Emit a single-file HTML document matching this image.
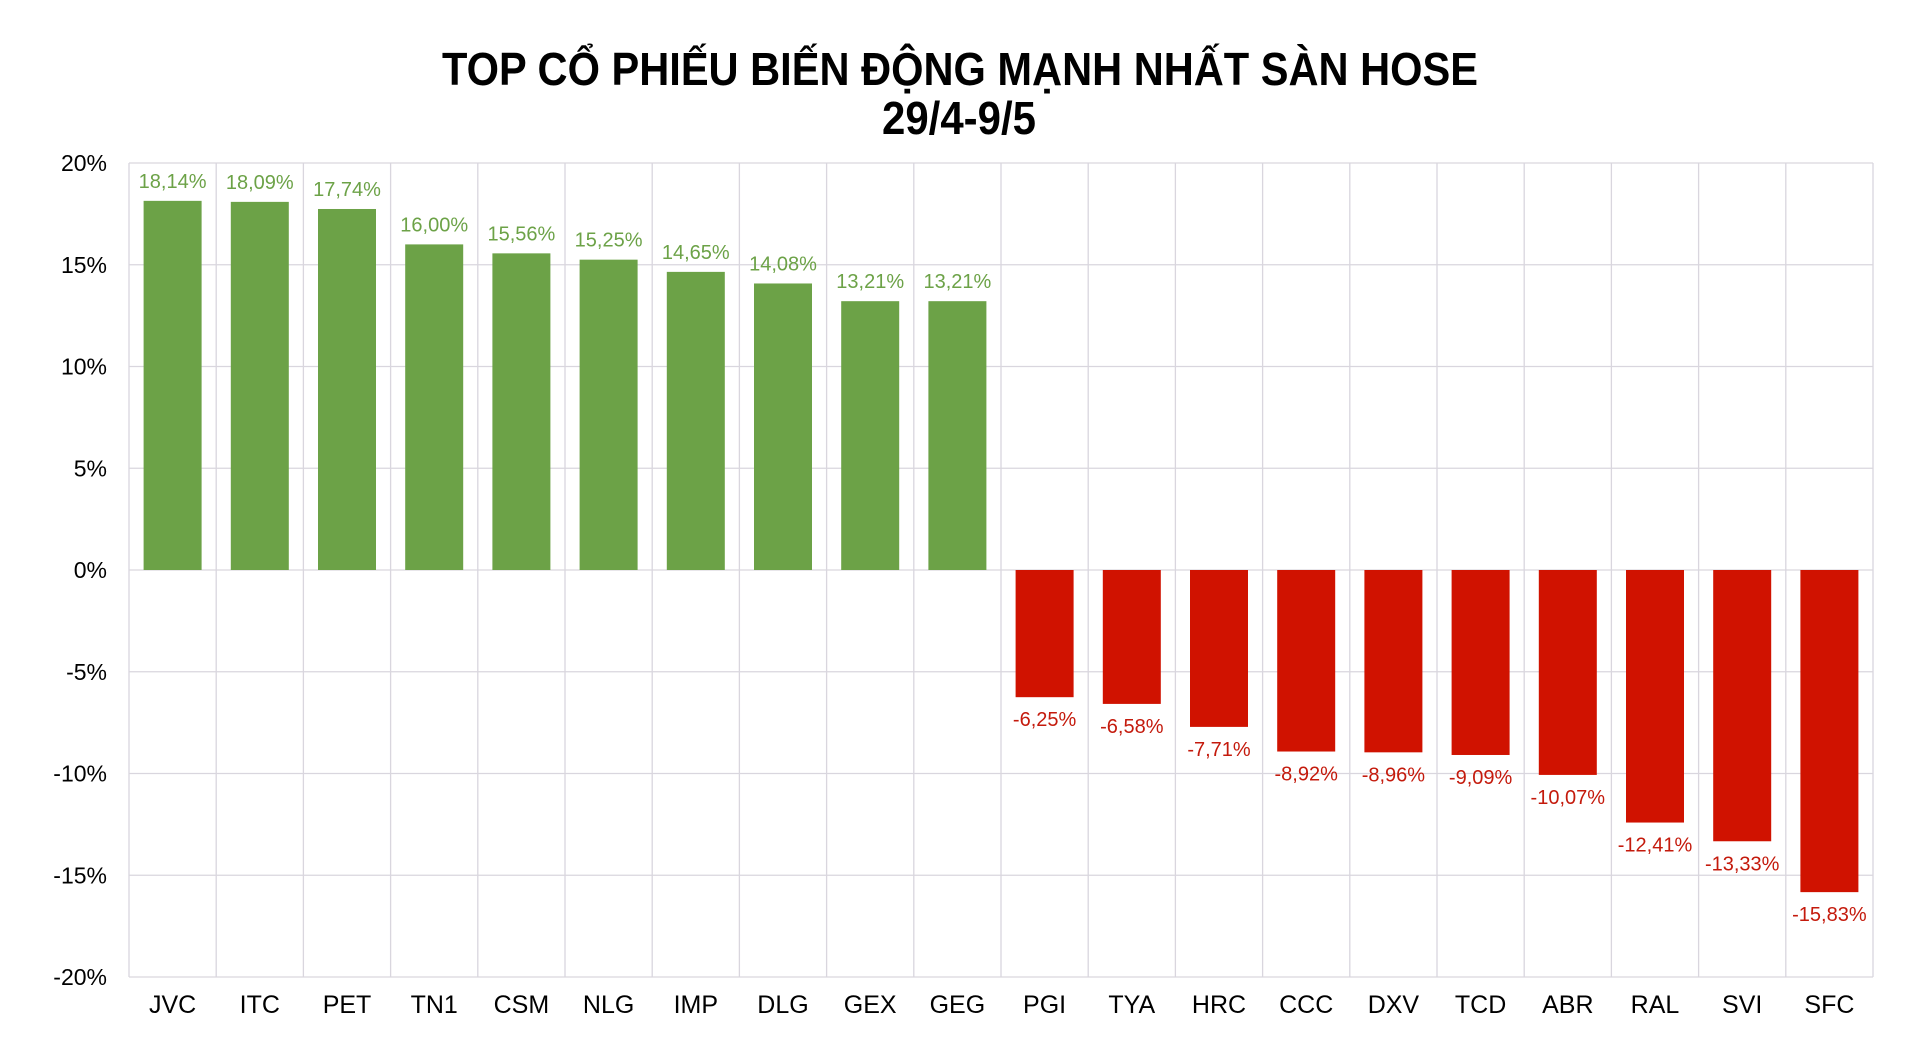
<!DOCTYPE html>
<html><head><meta charset="utf-8"><style>html,body{margin:0;padding:0;background:#fff}svg{display:block}</style></head>
<body>
<svg width="1920" height="1042" xmlns="http://www.w3.org/2000/svg" font-family="Liberation Sans, Arial, sans-serif">
<text x="960" y="85" text-anchor="middle" font-size="46" font-weight="bold" textLength="1036" lengthAdjust="spacingAndGlyphs">TOP CỔ PHIẾU BIẾN ĐỘNG MẠNH NHẤT SÀN HOSE</text>
<text x="959" y="134" text-anchor="middle" font-size="46" font-weight="bold" textLength="154" lengthAdjust="spacingAndGlyphs">29/4-9/5</text>
<g id="grid" stroke="#d9d6de" stroke-width="1.3"></g>
<g id="ylab" font-size="23" text-anchor="end" fill="#000"></g>
<g id="bars"></g>
</svg>
<script>
const ns="http://www.w3.org/2000/svg";
const L=129,R=1873,T=163,B=977,zero=570,ppu=20.35;
const cats=["JVC","ITC","PET","TN1","CSM","NLG","IMP","DLG","GEX","GEG","PGI","TYA","HRC","CCC","DXV","TCD","ABR","RAL","SVI","SFC"];
const vals=[18.14,18.09,17.74,16.00,15.56,15.25,14.65,14.08,13.21,13.21,-6.25,-6.58,-7.71,-8.92,-8.96,-9.09,-10.07,-12.41,-13.33,-15.83];
const cw=(R-L)/20;
function el(t,a,p,txt){const e=document.createElementNS(ns,t);for(const k in a)e.setAttribute(k,a[k]);if(txt!==undefined)e.textContent=txt;p.appendChild(e);return e;}
const g=document.getElementById("grid"),yl=document.getElementById("ylab"),b=document.getElementById("bars");
for(let v=20;v>=-20;v-=5){const y=zero-v*ppu;el("line",{x1:L,x2:R,y1:y,y2:y},g);el("text",{x:107,y:y+8},yl,v+"%");}
for(let i=0;i<=20;i++){const x=L+i*cw;el("line",{x1:x,x2:x,y1:T,y2:B},g);}
vals.forEach((v,i)=>{const x0=L+i*cw,cx=x0+cw/2;const col=v>0?"#6ca247":"#d01200";const lc=v>0?"#6ca247":"#c41a0c";
 const h=Math.abs(v)*ppu;const y=v>0?zero-h:zero;
 el("rect",{x:cx-29,y:y,width:58,height:h,fill:col},b);
 const s=(v<0?"-":"")+Math.abs(v).toFixed(2).replace(".",",")+"%";
 el("text",{x:cx,y:v>0?zero-h-13:zero+h+29,"text-anchor":"middle","font-size":20,fill:lc},b,s);
 el("text",{x:cx,y:1013,"text-anchor":"middle","font-size":25,fill:"#000"},b,cats[i]);
});
</script>
</body></html>
